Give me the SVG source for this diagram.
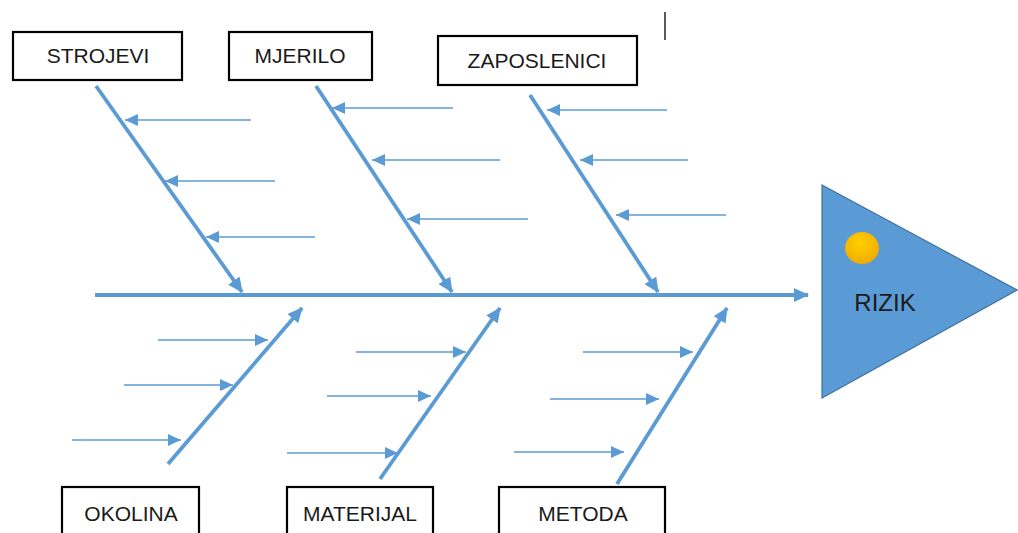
<svg xmlns="http://www.w3.org/2000/svg" width="1018" height="533" viewBox="0 0 1018 533">
<style>
.box{fill:#fff;stroke:#000;stroke-width:2.2}
.lbl{font-family:"Liberation Sans",Arial,sans-serif;font-size:21px;fill:#1a1a1a;text-anchor:middle}
.bone{stroke:#5B9BD5;stroke-width:3.8;fill:none;marker-end:url(#bigArrow)}
.sub{stroke:#5B9BD5;stroke-width:1.3;fill:none;marker-end:url(#smallArrow)}
</style>
<defs>
<marker id="bigArrow" markerUnits="userSpaceOnUse" markerWidth="16" markerHeight="14" refX="14" refY="7" orient="auto">
<path d="M0,0 L15,7 L0,14 Z" fill="#5B9BD5"/>
</marker>
<marker id="smallArrow" markerUnits="userSpaceOnUse" markerWidth="14" markerHeight="12" refX="13" refY="6" orient="auto">
<path d="M0,0 L13,6 L0,12 Z" fill="#5B9BD5"/>
</marker>
<radialGradient id="sun" cx="0.45" cy="0.35" r="0.7">
<stop offset="0" stop-color="#FFD000"/>
<stop offset="1" stop-color="#F0A800"/>
</radialGradient>
</defs>
<rect width="1018" height="533" fill="#fff"/>
<line x1="665" y1="12" x2="665" y2="40" stroke="#000" stroke-width="1.3"/>
<g id="connectors">
<line class="bone" x1="95" y1="295" x2="808" y2="295"/>
<line class="bone" x1="96" y1="86" x2="242" y2="292"/>
<line class="bone" x1="316" y1="86" x2="452" y2="292"/>
<line class="bone" x1="530" y1="95" x2="658" y2="292"/>
<line class="bone" x1="168" y1="464" x2="302" y2="308"/>
<line class="bone" x1="380" y1="479" x2="500" y2="308"/>
<line class="bone" x1="617" y1="484" x2="727" y2="308"/>
<line class="sub" x1="251" y1="120" x2="125" y2="120"/>
<line class="sub" x1="275" y1="181" x2="165" y2="181"/>
<line class="sub" x1="315" y1="237" x2="206" y2="237"/>
<line class="sub" x1="453" y1="108" x2="332" y2="108"/>
<line class="sub" x1="500" y1="160" x2="372" y2="160"/>
<line class="sub" x1="528" y1="219" x2="407" y2="219"/>
<line class="sub" x1="667" y1="110" x2="547" y2="110"/>
<line class="sub" x1="688" y1="160" x2="580" y2="160"/>
<line class="sub" x1="726" y1="215" x2="616" y2="215"/>
<line class="sub" x1="158" y1="340" x2="268" y2="340"/>
<line class="sub" x1="124" y1="385" x2="233" y2="385"/>
<line class="sub" x1="72" y1="440" x2="181" y2="440"/>
<line class="sub" x1="356" y1="352" x2="466" y2="352"/>
<line class="sub" x1="327" y1="396" x2="431" y2="396"/>
<line class="sub" x1="287" y1="453" x2="398" y2="453"/>
<line class="sub" x1="583" y1="352" x2="693" y2="352"/>
<line class="sub" x1="550" y1="399" x2="659" y2="399"/>
<line class="sub" x1="514" y1="452" x2="624" y2="452"/>
</g>
<g id="strojevi"><rect class="box" x="13" y="32" width="169" height="48"/><text class="lbl" x="98" y="63">STROJEVI</text></g>
<g id="mjerilo"><rect class="box" x="229" y="32" width="143" height="48"/><text class="lbl" x="300" y="63">MJERILO</text></g>
<g id="zaposlenici"><rect class="box" x="438" y="36" width="199" height="49"/><text class="lbl" x="537" y="68">ZAPOSLENICI</text></g>
<g id="okolina"><rect class="box" x="62" y="487" width="137" height="50"/><text class="lbl" x="131" y="521">OKOLINA</text></g>
<g id="materijal"><rect class="box" x="287" y="487" width="146" height="50"/><text class="lbl" x="360" y="521">MATERIJAL</text></g>
<g id="metoda"><rect class="box" x="499" y="487" width="166" height="50"/><text class="lbl" x="583" y="521">METODA</text></g>
<g id="rizik">
<polygon points="822,185 1017,290 822,398" fill="#5B9BD5" stroke="#41719C" stroke-width="1.2"/>
<ellipse cx="862" cy="248" rx="17" ry="16" fill="url(#sun)"/>
<text class="lbl" x="885" y="311" style="font-size:24px">RIZIK</text>
</g>
</svg>
